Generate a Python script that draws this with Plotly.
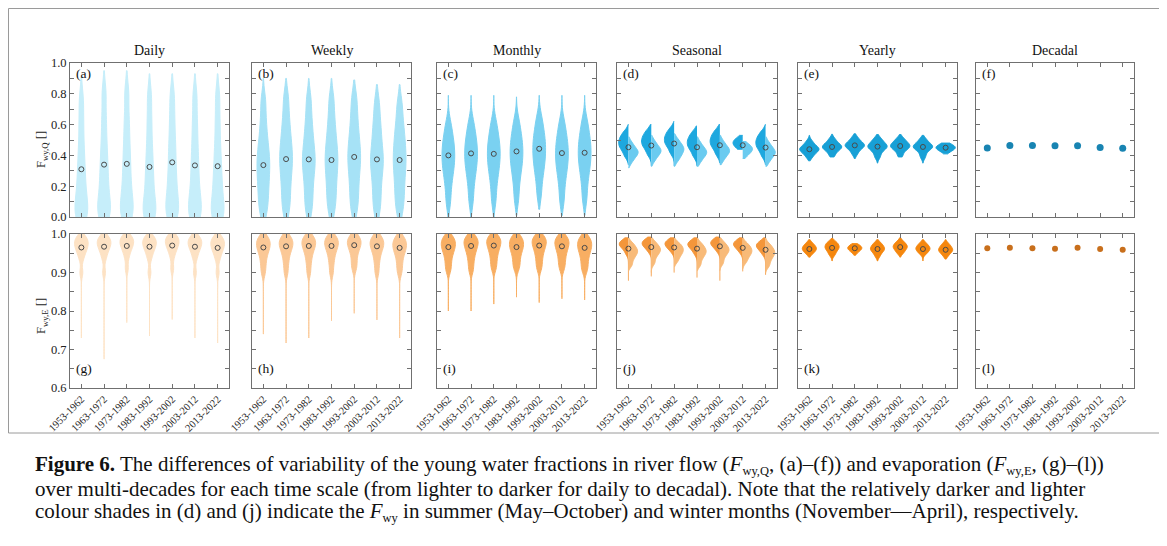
import plotly.graph_objects as go

# page body has an 8px margin; figure fills the rest of the 1167x546 window
OFF = 8
W, H = 1167 - OFF, 546 - OFF
SERIF = "Liberation Serif"

decades = ["1953-1962", "1963-1972", "1973-1982", "1983-1992", "1993-2002", "2003-2012", "2013-2022"]
scales = ["Daily", "Weekly", "Monthly", "Seasonal", "Yearly", "Decadal"]
letters = list("abcdefghijkl")

# ---------------- Row 1 : F_wy,Q ----------------
q_daily_samples = [
    [0.0, 0.02, 0.06, 0.12, 0.19, 0.27, 0.36, 0.47, 0.61, 0.76],
    [0.0, 0.03, 0.07, 0.13, 0.21, 0.29, 0.38, 0.49, 0.63, 0.80],
    [0.0, 0.03, 0.07, 0.14, 0.21, 0.30, 0.39, 0.50, 0.63, 0.80],
    [0.0, 0.02, 0.06, 0.12, 0.20, 0.28, 0.37, 0.48, 0.62, 0.78],
    [0.0, 0.03, 0.08, 0.14, 0.22, 0.30, 0.40, 0.50, 0.63, 0.78],
    [0.0, 0.02, 0.07, 0.13, 0.20, 0.29, 0.38, 0.49, 0.62, 0.78],
    [0.0, 0.02, 0.06, 0.13, 0.20, 0.28, 0.37, 0.48, 0.62, 0.78],
]
q_daily_lo = [0.0, 0.0, 0.0, 0.0, 0.0, 0.0, 0.0]
q_daily_hi = [0.91, 0.95, 0.95, 0.93, 0.93, 0.93, 0.93]
q_daily_med = [0.31, 0.34, 0.345, 0.325, 0.355, 0.335, 0.33]

q_weekly_samples = [
    [0.03, 0.10, 0.17, 0.23, 0.29, 0.34, 0.39, 0.45, 0.52, 0.62, 0.75],
    [0.04, 0.12, 0.20, 0.27, 0.33, 0.38, 0.43, 0.49, 0.56, 0.65, 0.77],
    [0.04, 0.12, 0.20, 0.27, 0.33, 0.37, 0.42, 0.48, 0.55, 0.64, 0.76],
    [0.04, 0.12, 0.19, 0.26, 0.32, 0.37, 0.42, 0.48, 0.55, 0.64, 0.76],
    [0.05, 0.13, 0.21, 0.28, 0.34, 0.39, 0.44, 0.50, 0.57, 0.66, 0.77],
    [0.04, 0.12, 0.20, 0.27, 0.33, 0.37, 0.42, 0.48, 0.55, 0.63, 0.74],
    [0.04, 0.12, 0.19, 0.26, 0.32, 0.37, 0.42, 0.48, 0.54, 0.62, 0.73],
]
q_weekly_lo = [0.0, 0.0, 0.0, 0.0, 0.0, 0.0, 0.0]
q_weekly_hi = [0.90, 0.90, 0.90, 0.90, 0.89, 0.86, 0.86]
q_weekly_med = [0.337, 0.376, 0.374, 0.37, 0.39, 0.374, 0.37]

q_monthly_samples = [
    [0.10, 0.20, 0.27, 0.32, 0.36, 0.40, 0.44, 0.48, 0.53, 0.60],
    [0.11, 0.21, 0.28, 0.33, 0.37, 0.41, 0.45, 0.49, 0.54, 0.61],
    [0.11, 0.21, 0.28, 0.33, 0.37, 0.41, 0.45, 0.49, 0.54, 0.61],
    [0.12, 0.22, 0.29, 0.34, 0.38, 0.42, 0.46, 0.50, 0.55, 0.62],
    [0.15, 0.25, 0.31, 0.36, 0.40, 0.44, 0.48, 0.52, 0.57, 0.64],
    [0.11, 0.21, 0.28, 0.33, 0.37, 0.41, 0.45, 0.49, 0.54, 0.61],
    [0.12, 0.22, 0.29, 0.34, 0.38, 0.42, 0.46, 0.50, 0.55, 0.62],
]
q_monthly_lo = [0.0, 0.0, 0.0, 0.01, 0.05, 0.01, 0.01]
q_monthly_hi = [0.79, 0.79, 0.79, 0.78, 0.79, 0.79, 0.79]
q_monthly_med = [0.40, 0.413, 0.41, 0.426, 0.443, 0.415, 0.417]

q_summer_samples = [
    [0.40, 0.44, 0.46, 0.48, 0.50, 0.52, 0.55],
    [0.41, 0.45, 0.47, 0.49, 0.51, 0.53, 0.56],
    [0.42, 0.46, 0.48, 0.50, 0.52, 0.54, 0.57],
    [0.40, 0.44, 0.46, 0.48, 0.50, 0.52, 0.55],
    [0.41, 0.45, 0.47, 0.49, 0.51, 0.53, 0.56],
    [0.44, 0.46, 0.47, 0.48, 0.49, 0.50, 0.51],
    [0.40, 0.44, 0.46, 0.48, 0.50, 0.52, 0.55],
]
q_summer_lo = [0.34, 0.33, 0.33, 0.33, 0.35, 0.44, 0.34]
q_summer_hi = [0.60, 0.60, 0.62, 0.59, 0.60, 0.53, 0.60]
q_winter_samples = [
    [0.36, 0.39, 0.41, 0.42, 0.43, 0.45, 0.48],
    [0.37, 0.40, 0.42, 0.43, 0.44, 0.46, 0.49],
    [0.37, 0.40, 0.42, 0.44, 0.45, 0.47, 0.50],
    [0.36, 0.39, 0.41, 0.42, 0.43, 0.45, 0.48],
    [0.37, 0.40, 0.42, 0.43, 0.44, 0.46, 0.49],
    [0.40, 0.42, 0.43, 0.44, 0.45, 0.46, 0.47],
    [0.36, 0.39, 0.41, 0.42, 0.43, 0.45, 0.48],
]
q_winter_lo = [0.32, 0.33, 0.33, 0.33, 0.34, 0.38, 0.33]
q_winter_hi = [0.52, 0.53, 0.54, 0.52, 0.53, 0.49, 0.52]
q_seasonal_med = [0.453, 0.464, 0.477, 0.453, 0.466, 0.466, 0.451]

q_yearly_samples = [
    [0.39, 0.41, 0.425, 0.435, 0.44, 0.445, 0.455, 0.47, 0.49],
    [0.40, 0.425, 0.44, 0.45, 0.455, 0.46, 0.47, 0.485, 0.505],
    [0.41, 0.435, 0.45, 0.46, 0.465, 0.47, 0.48, 0.495, 0.515],
    [0.39, 0.42, 0.44, 0.45, 0.457, 0.465, 0.475, 0.49, 0.51],
    [0.40, 0.43, 0.445, 0.455, 0.461, 0.468, 0.478, 0.492, 0.51],
    [0.39, 0.42, 0.44, 0.45, 0.455, 0.462, 0.47, 0.485, 0.505],
    [0.425, 0.435, 0.443, 0.448, 0.45, 0.453, 0.458, 0.465, 0.472],
]
q_yearly_lo = [0.365, 0.39, 0.38, 0.35, 0.39, 0.35, 0.41]
q_yearly_hi = [0.53, 0.537, 0.54, 0.535, 0.535, 0.53, 0.48]
q_yearly_med = [0.44, 0.455, 0.465, 0.457, 0.461, 0.455, 0.45]

q_decadal = [0.448, 0.465, 0.465, 0.463, 0.463, 0.452, 0.446]

# ---------------- Row 2 : F_wy,E ----------------
e_daily_samples = [
    [0.90, 0.935, 0.950, 0.958, 0.965, 0.971, 0.977, 0.982, 0.988, 0.993],
    [0.90, 0.936, 0.951, 0.960, 0.967, 0.973, 0.978, 0.983, 0.988, 0.993],
    [0.91, 0.938, 0.953, 0.962, 0.969, 0.975, 0.980, 0.985, 0.990, 0.995],
    [0.90, 0.936, 0.951, 0.960, 0.967, 0.973, 0.978, 0.983, 0.988, 0.993],
    [0.91, 0.940, 0.955, 0.963, 0.970, 0.976, 0.981, 0.986, 0.991, 0.995],
    [0.90, 0.936, 0.951, 0.960, 0.967, 0.973, 0.978, 0.983, 0.988, 0.993],
    [0.90, 0.933, 0.948, 0.957, 0.964, 0.970, 0.976, 0.981, 0.987, 0.992],
]
e_daily_lo = [0.73, 0.675, 0.77, 0.735, 0.778, 0.73, 0.717]
e_daily_hi = [1.0, 1.0, 1.0, 1.0, 1.0, 1.0, 1.0]
e_daily_med = [0.965, 0.967, 0.969, 0.967, 0.97, 0.967, 0.964]

e_weekly_samples = [
    [0.90, 0.920, 0.937, 0.950, 0.960, 0.966, 0.973, 0.980, 0.986, 0.992],
    [0.90, 0.922, 0.939, 0.952, 0.962, 0.968, 0.975, 0.981, 0.987, 0.993],
    [0.90, 0.923, 0.940, 0.953, 0.963, 0.969, 0.976, 0.982, 0.988, 0.993],
    [0.90, 0.923, 0.940, 0.953, 0.963, 0.969, 0.976, 0.982, 0.988, 0.993],
    [0.91, 0.925, 0.942, 0.955, 0.965, 0.971, 0.977, 0.983, 0.989, 0.994],
    [0.90, 0.922, 0.939, 0.952, 0.962, 0.968, 0.975, 0.981, 0.987, 0.993],
    [0.90, 0.918, 0.935, 0.948, 0.958, 0.964, 0.971, 0.978, 0.985, 0.991],
]
e_weekly_lo = [0.74, 0.717, 0.73, 0.775, 0.794, 0.777, 0.73]
e_weekly_hi = [1.0, 1.0, 1.0, 1.0, 1.0, 1.0, 1.0]
e_weekly_med = [0.965, 0.968, 0.969, 0.969, 0.971, 0.968, 0.964]

e_monthly_samples = [
    [0.905, 0.922, 0.938, 0.950, 0.960, 0.966, 0.973, 0.980, 0.987, 0.993],
    [0.905, 0.924, 0.940, 0.952, 0.962, 0.969, 0.976, 0.982, 0.988, 0.994],
    [0.910, 0.926, 0.941, 0.953, 0.963, 0.970, 0.977, 0.983, 0.989, 0.994],
    [0.910, 0.924, 0.938, 0.950, 0.960, 0.966, 0.973, 0.980, 0.987, 0.993],
    [0.910, 0.926, 0.941, 0.953, 0.963, 0.970, 0.977, 0.983, 0.989, 0.994],
    [0.910, 0.925, 0.939, 0.951, 0.961, 0.968, 0.975, 0.981, 0.988, 0.993],
    [0.905, 0.920, 0.935, 0.947, 0.957, 0.964, 0.971, 0.978, 0.985, 0.992],
]
e_monthly_lo = [0.80, 0.80, 0.818, 0.836, 0.822, 0.832, 0.829]
e_monthly_hi = [1.0, 1.0, 1.0, 1.0, 1.0, 1.0, 1.0]
e_monthly_med = [0.966, 0.969, 0.97, 0.966, 0.97, 0.968, 0.964]

e_summer_samples = [
    [0.950, 0.962, 0.968, 0.972, 0.976, 0.980, 0.985],
    [0.955, 0.965, 0.970, 0.974, 0.978, 0.982, 0.987],
    [0.955, 0.964, 0.969, 0.973, 0.977, 0.981, 0.986],
    [0.950, 0.961, 0.967, 0.971, 0.975, 0.979, 0.984],
    [0.956, 0.966, 0.971, 0.975, 0.979, 0.983, 0.988],
    [0.953, 0.963, 0.968, 0.972, 0.976, 0.980, 0.985],
    [0.948, 0.958, 0.964, 0.968, 0.972, 0.976, 0.982],
]
e_summer_lo = [0.879, 0.89, 0.90, 0.887, 0.879, 0.903, 0.894]
e_summer_hi = [0.99, 0.992, 0.99, 0.99, 0.992, 0.99, 0.99]
e_winter_samples = [
    [0.920, 0.935, 0.945, 0.952, 0.958, 0.965, 0.975],
    [0.925, 0.940, 0.950, 0.956, 0.962, 0.968, 0.978],
    [0.930, 0.942, 0.950, 0.956, 0.962, 0.968, 0.976],
    [0.920, 0.935, 0.945, 0.952, 0.958, 0.965, 0.975],
    [0.925, 0.940, 0.950, 0.956, 0.962, 0.968, 0.978],
    [0.928, 0.940, 0.948, 0.954, 0.960, 0.966, 0.975],
    [0.918, 0.932, 0.942, 0.949, 0.955, 0.962, 0.972],
]
e_winter_lo = [0.905, 0.90, 0.915, 0.905, 0.905, 0.91, 0.90]
e_winter_hi = [0.99, 0.99, 0.99, 0.99, 0.99, 0.99, 0.99]
e_seasonal_med = [0.962, 0.966, 0.965, 0.962, 0.968, 0.964, 0.959]

e_yearly_samples = [
    [0.948, 0.953, 0.957, 0.960, 0.962, 0.965, 0.968, 0.972, 0.977],
    [0.945, 0.952, 0.958, 0.962, 0.965, 0.968, 0.972, 0.976, 0.980],
    [0.952, 0.956, 0.959, 0.962, 0.963, 0.965, 0.967, 0.969, 0.972],
    [0.942, 0.950, 0.955, 0.959, 0.961, 0.964, 0.968, 0.972, 0.977],
    [0.950, 0.955, 0.960, 0.964, 0.966, 0.969, 0.972, 0.976, 0.981],
    [0.948, 0.953, 0.957, 0.960, 0.962, 0.965, 0.968, 0.972, 0.977],
    [0.943, 0.950, 0.954, 0.957, 0.959, 0.962, 0.966, 0.970, 0.975],
]
e_yearly_lo = [0.94, 0.93, 0.945, 0.93, 0.94, 0.93, 0.935]
e_yearly_hi = [0.985, 0.988, 0.975, 0.985, 0.99, 0.985, 0.985]
e_yearly_med = [0.961, 0.964, 0.963, 0.961, 0.966, 0.961, 0.959]

e_decadal = [0.963, 0.964, 0.963, 0.962, 0.964, 0.961, 0.959]

# ---------------- styling ----------------
col_px = [(70, 229), (252, 411), (437, 596), (617, 777), (798, 957), (976, 1134)]
row_px = [(63, 217), (234, 388)]
AX = "#707070"
MED = "#4a4a4a"

q_colors = ["#c6eefa", "#a6e2f6", "#7ad1f1", ("#1ea8df", "#6acbf0"), "#17a0d6", "#1884b2"]
e_colors = ["#fde2c4", "#fbc896", "#f8ae62", ("#f4963a", "#f8ba78"), "#f5870e", "#c86f1c"]


def px(x):
    return (x - OFF) / W


def py(y):
    return 1 - (y - OFF) / H


fig = go.Figure()


def ax_ids(r, c):
    n = r * 6 + c + 1
    s = "" if n == 1 else str(n)
    return "x" + s, "y" + s, s


def add_violins(r, c, samples, lo, hi, color, width, bw, side="both"):
    xa, ya, _ = ax_ids(r, c)
    for i, d in enumerate(decades):
        fig.add_trace(go.Violin(
            x=[d] * len(samples[i]), y=samples[i], xaxis=xa, yaxis=ya,
            spanmode="manual", span=[lo[i], hi[i]], bandwidth=bw,
            width=width, side=side, points=False, scalemode="width",
            fillcolor=color, line=dict(color=color, width=1),
            opacity=1, showlegend=False, hoverinfo="skip"))


def add_medians(r, c, med, size=5):
    xa, ya, _ = ax_ids(r, c)
    fig.add_trace(go.Scatter(
        x=decades, y=med, xaxis=xa, yaxis=ya, mode="markers",
        marker=dict(symbol="circle-open", size=size, color=MED, line=dict(width=1)),
        showlegend=False, hoverinfo="skip"))


def add_dots(r, c, vals, color, size):
    xa, ya, _ = ax_ids(r, c)
    fig.add_trace(go.Scatter(
        x=decades, y=vals, xaxis=xa, yaxis=ya, mode="markers",
        marker=dict(symbol="circle", size=size, color=color),
        showlegend=False, hoverinfo="skip"))


# Row 1
add_violins(0, 0, q_daily_samples, q_daily_lo, q_daily_hi, q_colors[0], 0.56, 0.08)
add_medians(0, 0, q_daily_med)
add_violins(0, 1, q_weekly_samples, q_weekly_lo, q_weekly_hi, q_colors[1], 0.56, 0.07)
add_medians(0, 1, q_weekly_med)
add_violins(0, 2, q_monthly_samples, q_monthly_lo, q_monthly_hi, q_colors[2], 0.56, 0.06)
add_medians(0, 2, q_monthly_med)
add_violins(0, 3, q_summer_samples, q_summer_lo, q_summer_hi, q_colors[3][0], 0.85, 0.025, "negative")
add_violins(0, 3, q_winter_samples, q_winter_lo, q_winter_hi, q_colors[3][1], 0.85, 0.025, "positive")
add_medians(0, 3, q_seasonal_med)
add_violins(0, 4, q_yearly_samples, q_yearly_lo, q_yearly_hi, q_colors[4], 0.85, 0.018)
add_medians(0, 4, q_yearly_med)
add_dots(0, 5, q_decadal, q_colors[5], 7)

# Row 2
add_violins(1, 0, e_daily_samples, e_daily_lo, e_daily_hi, e_colors[0], 0.6, 0.012)
add_medians(1, 0, e_daily_med)
add_violins(1, 1, e_weekly_samples, e_weekly_lo, e_weekly_hi, e_colors[1], 0.6, 0.013)
add_medians(1, 1, e_weekly_med)
add_violins(1, 2, e_monthly_samples, e_monthly_lo, e_monthly_hi, e_colors[2], 0.62, 0.012)
add_medians(1, 2, e_monthly_med)
add_violins(1, 3, e_summer_samples, e_summer_lo, e_summer_hi, e_colors[3][0], 0.8, 0.008, "negative")
add_violins(1, 3, e_winter_samples, e_winter_lo, e_winter_hi, e_colors[3][1], 0.8, 0.008, "positive")
add_medians(1, 3, e_seasonal_med)
add_violins(1, 4, e_yearly_samples, e_yearly_lo, e_yearly_hi, e_colors[4], 0.62, 0.006)
add_medians(1, 4, e_yearly_med)
add_dots(1, 5, e_decadal, e_colors[5], 6)

# ---------------- axes ----------------
layout = {}
for r in range(2):
    for c in range(6):
        xa, ya, s = ax_ids(r, c)
        x0, x1 = col_px[c]
        y0, y1 = row_px[r]
        layout["xaxis" + s] = dict(
            domain=[px(x0), px(x1)], anchor=ya, type="category", automargin=False,
            categoryorder="array", categoryarray=decades, range=[-0.5, 6.5],
            showline=True, mirror="allticks", linecolor=AX, linewidth=1,
            ticks="inside", ticklen=4, tickcolor=AX, showgrid=False, zeroline=False,
            showticklabels=(r == 1), tickangle=-45,
            tickfont=dict(family=SERIF, size=10.5, color="#222"))
        layout["yaxis" + s] = dict(
            domain=[py(y1), py(y0)], anchor=xa, automargin=False,
            range=[0, 1] if r == 0 else [0.6, 1.0],
            tick0=0, dtick=0.2 if r == 0 else 0.1, tickformat=".1f",
            minor=dict(dtick=0.1 if r == 0 else 0.05, ticks="inside", ticklen=4,
                       tickcolor=AX, showgrid=False),
            showline=True, mirror="allticks", linecolor=AX, linewidth=1,
            ticks="inside", ticklen=4, tickcolor=AX, showgrid=False, zeroline=False,
            showticklabels=(c == 0),
            tickfont=dict(family=SERIF, size=12.5, color="#222"))

ann = []
for c, name in enumerate(scales):
    x0, x1 = col_px[c]
    ann.append(dict(x=px((x0 + x1) / 2), y=py(50), xref="paper", yref="paper",
                    text=name, showarrow=False, xanchor="center", yanchor="middle",
                    font=dict(family=SERIF, size=14, color="#111")))
for r in range(2):
    for c in range(6):
        x0, _ = col_px[c]
        ypix = 73 if r == 0 else 368
        ann.append(dict(x=px(x0 + 4), y=py(ypix), xref="paper", yref="paper",
                        text="(%s)" % letters[r * 6 + c], showarrow=False,
                        xanchor="left", yanchor="middle",
                        font=dict(family=SERIF, size=13.5, color="#111")))
ann.append(dict(x=px(42), y=py(150), xref="paper", yref="paper", textangle=-90,
                text="F<sub>wy,Q</sub> []", showarrow=False, xanchor="center", yanchor="middle",
                font=dict(family=SERIF, size=12.5, color="#222")))
ann.append(dict(x=px(42), y=py(316), xref="paper", yref="paper", textangle=-90,
                text="F<sub>wy,E</sub> []", showarrow=False, xanchor="center", yanchor="middle",
                font=dict(family=SERIF, size=12.5, color="#222")))

SUB = '<sub><span style="font-size:12.5px">%s</span></sub>'
caption = [
    "<b>Figure 6.</b> The differences of variability of the young water fractions in river flow "
    "(<i>F</i>" + SUB % "wy,Q" + ", (a)–(f)) and evaporation (<i>F</i>" + SUB % "wy,E" + ", (g)–(l))",
    "over multi-decades for each time scale (from lighter to darker for daily to decadal). "
    "Note that the relatively darker and lighter",
    "colour shades in (d) and (j) indicate the <i>F</i>" + SUB % "wy" + " in summer (May–October) "
    "and winter months (November—April), respectively.",
]
for k, line in enumerate(caption):
    ann.append(dict(x=px(33), y=py(465 + 23.5 * k), xref="paper", yref="paper",
                    text=line, showarrow=False, xanchor="left", yanchor="middle",
                    font=dict(family=SERIF, size=21, color="#111")))

shapes = [dict(type="rect", xref="paper", yref="paper",
               x0=px(8.5), x1=px(1160), y0=py(433), y1=py(8.5),
               line=dict(color="#9a9a9a", width=1), fillcolor="rgba(0,0,0,0)")]

fig.update_layout(
    width=W, height=H, margin=dict(l=0, r=0, t=0, b=0, autoexpand=False),
    paper_bgcolor="white", plot_bgcolor="white",
    violinmode="overlay", annotations=ann, shapes=shapes,
    **layout)

fig.write_html("out.html")
